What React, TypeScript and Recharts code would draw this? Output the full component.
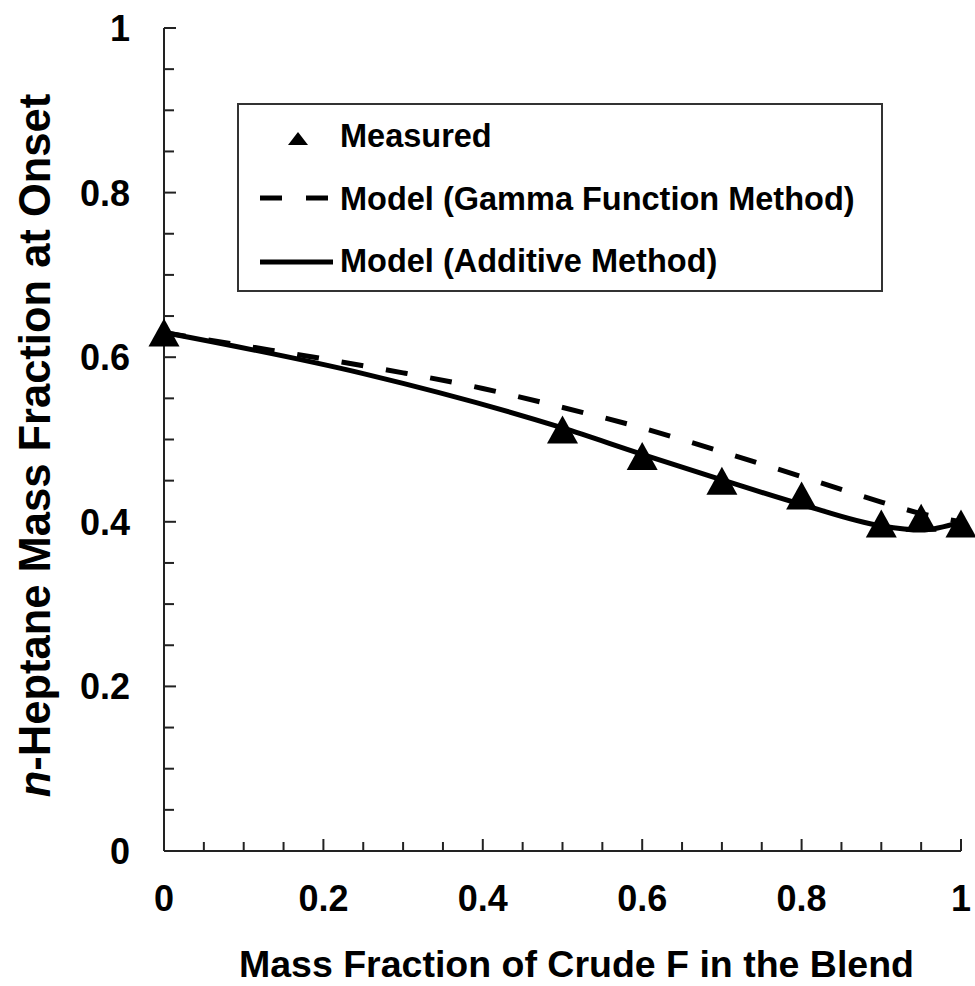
import React from 'react';
import { ComposedChart, Line, Scatter, XAxis, YAxis, Legend, Label } from 'recharts';

// ---- data ----
const measuredX = [0, 0.5, 0.6, 0.7, 0.8, 0.9, 0.95, 1.0];
const measuredY = [0.63, 0.512, 0.48, 0.45, 0.432, 0.398, 0.405, 0.398];

const gammaX = [0, 0.1, 0.2, 0.3, 0.4, 0.5, 0.6, 0.7, 0.8, 0.9, 0.95, 1.0];
const gammaY = [0.63, 0.614, 0.598, 0.581, 0.562, 0.539, 0.514, 0.485, 0.455, 0.424, 0.41, 0.4];

const additiveX = [0, 0.25, 0.5, 0.6, 0.7, 0.8, 0.9, 0.95, 1.0];
const additiveY = [0.63, 0.58, 0.514, 0.482, 0.451, 0.421, 0.395, 0.39, 0.4];

const axisTicks = [0, 0.05, 0.1, 0.15, 0.2, 0.25, 0.3, 0.35, 0.4, 0.45, 0.5, 0.55, 0.6, 0.65, 0.7, 0.75, 0.8, 0.85, 0.9, 0.95, 1];
const majorTicks = [0, 0.2, 0.4, 0.6, 0.8, 1];
const majorTickLabels = ['0', '0.2', '0.4', '0.6', '0.8', '1'];

const seriesNames = ['Measured', 'Model (Gamma Function Method)', 'Model (Additive Method)'];
const xTitle = 'Mass Fraction of Crude F in the Blend';
const yTitleItalic = 'n';
const yTitleRest = '-Heptane Mass Fraction at Onset';

const measured = measuredX.map((x, i) => ({ x, y: measuredY[i] }));
const gamma = gammaX.map((x, i) => ({ x, y: gammaY[i] }));
const additive = additiveX.map((x, i) => ({ x, y: additiveY[i] }));

const FONT = '"Liberation Sans", Arial, sans-serif';
const INK = '#000';
const FRAME = '#222';

const majorIndex = (v: number) => majorTicks.findIndex((m) => Math.abs(m - v) < 1e-6);

const BottomTick = (props: any) => {
  const { x, y, payload } = props;
  const idx = majorIndex(payload.value);
  const len = idx >= 0 ? 12 : 9;
  return (
    <g>
      <line x1={x} y1={y} x2={x} y2={y - len} stroke={FRAME} strokeWidth={2} />
      {idx >= 0 && (
        <text x={x} y={y + 60} textAnchor="middle" fontFamily={FONT} fontWeight="bold" fontSize={36} fill={INK}>
          {majorTickLabels[idx]}
        </text>
      )}
    </g>
  );
};

const TopTick = (props: any) => {
  const { x, y, payload } = props;
  const idx = majorIndex(payload.value);
  const len = idx >= 0 ? 14 : 11;
  return <line x1={x} y1={y} x2={x} y2={y + len} stroke={FRAME} strokeWidth={2} />;
};

const LeftTick = (props: any) => {
  const { x, y, payload } = props;
  const idx = majorIndex(payload.value);
  const len = idx >= 0 ? 12 : 10;
  return (
    <g>
      <line x1={x} y1={y} x2={x + len} y2={y} stroke={FRAME} strokeWidth={2} />
      {idx >= 0 && (
        <text x={x - 34} y={y + 13} textAnchor="end" fontFamily={FONT} fontWeight="bold" fontSize={36} fill={INK}>
          {majorTickLabels[idx]}
        </text>
      )}
    </g>
  );
};

const RightTick = (props: any) => {
  const { x, y, payload } = props;
  const idx = majorIndex(payload.value);
  const len = idx >= 0 ? 12 : 9;
  return <line x1={x} y1={y} x2={x - len} y2={y} stroke={FRAME} strokeWidth={2} />;
};

const Triangle = (props: any) => {
  const { cx, cy } = props;
  const w = 31;
  const h = 28;
  return (
    <polygon
      points={`${cx},${cy - h / 2} ${cx - w / 2},${cy + h / 2} ${cx + w / 2},${cy + h / 2}`}
      fill={INK}
    />
  );
};

const XTitle = (props: any) => {
  const vb = props.viewBox;
  return (
    <text x={vb.x + vb.width / 2 + 14} y={vb.y + 126} textAnchor="middle" fontFamily={FONT} fontWeight="bold" fontSize={37.5} fill={INK}>
      {xTitle}
    </text>
  );
};

const YTitle = (props: any) => {
  const vb = props.viewBox;
  const cx = vb.x + 50;
  const cy = vb.y + vb.height / 2 + 6;
  return (
    <text
      x={cx}
      y={cy}
      transform={`rotate(-90, ${cx}, ${cy})`}
      textAnchor="middle"
      fontFamily={FONT}
      fontWeight="bold"
      fontSize={43.5}
      fill={INK}
    >
      <tspan fontStyle="italic">{yTitleItalic}</tspan>
      <tspan>{yTitleRest}</tspan>
    </text>
  );
};

const LegendBox = () => (
  <div style={{ width: 646, height: 189, border: '2px solid #333', boxSizing: 'border-box', background: '#fff' }}>
    <svg width={642} height={185} style={{ display: 'block' }}>
      <polygon points="59,27 49,40 69,40" fill={INK} />
      <line x1={21} y1={93} x2={94} y2={93} stroke={INK} strokeWidth={5} strokeDasharray="22 24" />
      <line x1={21} y1={157} x2={94} y2={157} stroke={INK} strokeWidth={5} />
      <text x={101} y={42} fontFamily={FONT} fontWeight="bold" fontSize={32.5} fill={INK}>{seriesNames[0]}</text>
      <text x={101} y={105} fontFamily={FONT} fontWeight="bold" fontSize={32.5} fill={INK}>{seriesNames[1]}</text>
      <text x={101} y={167} fontFamily={FONT} fontWeight="bold" fontSize={32.5} fill={INK}>{seriesNames[2]}</text>
    </svg>
  </div>
);

export default function App() {
  return (
    <div style={{ position: 'absolute', left: 0, top: 0, background: '#fff' }}>
      <ComposedChart width={975} height={986} margin={{ top: 28, right: 14, bottom: 0, left: 0 }}>
        <XAxis
          xAxisId="main"
          dataKey="x"
          type="number"
          domain={[0, 1]}
          ticks={axisTicks}
          interval={0}
          height={135}
          tickSize={0}
          tickMargin={0}
          tickLine={false}
          tick={<BottomTick />}
          axisLine={{ stroke: FRAME, strokeWidth: 2 }}
        >
          <Label content={<XTitle />} />
        </XAxis>
        <XAxis
          xAxisId="top"
          orientation="top"
          type="number"
          domain={[0, 1]}
          allowDataOverflow
          ticks={axisTicks}
          interval={0}
          height={0}
          tickSize={0}
          tickMargin={0}
          tickLine={false}
          tick={<TopTick />}
          axisLine={{ stroke: FRAME, strokeWidth: 2 }}
        />
        <YAxis
          yAxisId="main"
          type="number"
          domain={[0, 1]}
          ticks={axisTicks}
          interval={0}
          width={164}
          tickSize={0}
          tickMargin={0}
          tickLine={false}
          tick={<LeftTick />}
          axisLine={{ stroke: FRAME, strokeWidth: 2 }}
        >
          <Label content={<YTitle />} />
        </YAxis>
        <YAxis
          yAxisId="right"
          orientation="right"
          type="number"
          domain={[0, 1]}
          allowDataOverflow
          ticks={axisTicks}
          interval={0}
          width={0}
          tickSize={0}
          tickMargin={0}
          tickLine={false}
          tick={<RightTick />}
          axisLine={{ stroke: FRAME, strokeWidth: 2 }}
        />
        <Legend
          layout="horizontal"
          verticalAlign="middle"
          align="center"
          content={<LegendBox />}
          wrapperStyle={{ position: 'absolute', left: 237, top: 103, width: 646, height: 189 }}
        />
        <Line
          xAxisId="main"
          yAxisId="main"
          data={gamma}
          dataKey="y"
          type="monotone"
          stroke={INK}
          strokeWidth={5}
          strokeDasharray="22 23"
          dot={false}
          activeDot={false}
          isAnimationActive={false}
          name={seriesNames[1]}
        />
        <Line
          xAxisId="main"
          yAxisId="main"
          data={additive}
          dataKey="y"
          type="monotone"
          stroke={INK}
          strokeWidth={5}
          dot={false}
          activeDot={false}
          isAnimationActive={false}
          name={seriesNames[2]}
        />
        <Scatter
          xAxisId="main"
          yAxisId="main"
          data={measured}
          dataKey="y"
          shape={<Triangle />}
          isAnimationActive={false}
          name={seriesNames[0]}
        />
      </ComposedChart>
    </div>
  );
}
